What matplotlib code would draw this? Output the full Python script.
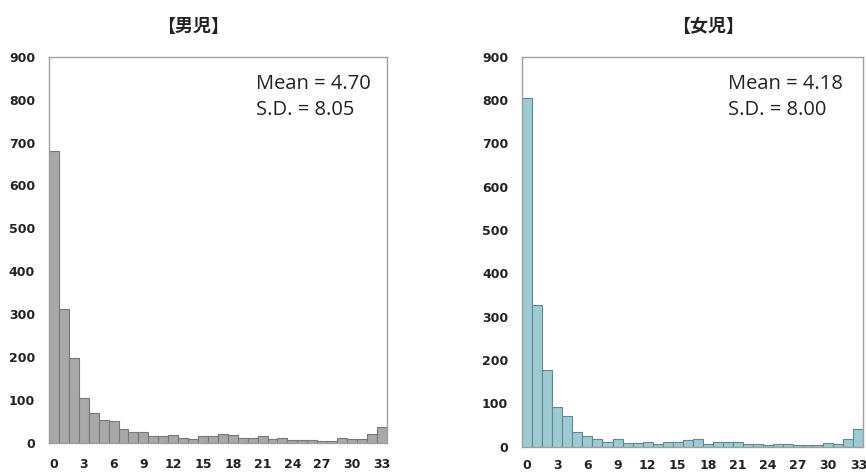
import numpy as np
import matplotlib.pyplot as plt

plt.rcParams['font.family'] = ['Noto Sans CJK JP', 'DejaVu Sans']

# 値
scores = np.arange(34)
boys = [680, 311, 198, 105, 69, 54, 51, 33, 24, 26, 15, 15, 18, 12, 9, 15, 15,
        21, 18, 12, 12, 15, 9, 12, 6, 6, 6, 3, 3, 12, 9, 9, 21, 36]
girls = [804, 326, 178, 92, 72, 35, 24, 18, 12, 18, 9, 9, 12, 6, 12, 12, 15,
         18, 6, 12, 12, 12, 6, 6, 3, 6, 6, 3, 3, 3, 9, 6, 18, 42]
xticks = list(range(0, 34, 3))
yticks = list(range(0, 901, 100))

titles = ['【男児】', '【女児】']
stats = [('Mean = 4.70', 'S.D. = 8.05'), ('Mean = 4.18', 'S.D. = 8.00')]
colors = ['#a8a8a8', '#9ccbd3']
edges = ['#777777', '#62888e']

fig = plt.figure(figsize=(8.66, 4.73), dpi=100)
ax1 = fig.add_axes([0.0566, 0.064, 0.390, 0.816])
ax2 = fig.add_axes([0.603, 0.0556, 0.394, 0.8245])

for ax, vals, c, ec in zip([ax1, ax2], [boys, girls], colors, edges):
    ax.bar(scores, vals, width=1.0, color=c, edgecolor=ec, linewidth=0.8)
    ax.set_xlim(-0.5, 33.5)
    ax.set_ylim(0, 900)
    ax.set_xticks(xticks)
    ax.set_yticks(yticks)
    ax.tick_params(length=0, labelsize=9, colors='#222222', pad=11)
    ax.tick_params(axis='y', pad=10)
    for lab in ax.get_xticklabels() + ax.get_yticklabels():
        lab.set_fontweight('bold')
        lab.set_family('DejaVu Sans')
    for s in ax.spines.values():
        s.set_color('#a0a0a0')
        s.set_linewidth(1.0)
ax2.tick_params(axis='x', pad=9)

ax1.text(0.612, 0.916, stats[0][0], transform=ax1.transAxes, fontsize=14.5,
         family='Open Sans', color='#222222')
ax1.text(0.612, 0.848, stats[0][1], transform=ax1.transAxes, fontsize=14.5,
         family='Open Sans', color='#222222')
ax2.text(0.603, 0.917, stats[1][0], transform=ax2.transAxes, fontsize=14.5,
         family='Open Sans', color='#222222')
ax2.text(0.603, 0.850, stats[1][1], transform=ax2.transAxes, fontsize=14.5,
         family='Open Sans', color='#222222')

fig.text(193 / 866, 1 - 26 / 473, titles[0], ha='center', va='center',
         fontsize=13, fontweight='bold', color='#222222')
fig.text(708 / 866, 1 - 26 / 473, titles[1], ha='center', va='center',
         fontsize=13, fontweight='bold', color='#222222')

fig.savefig('out.png', dpi=100)
